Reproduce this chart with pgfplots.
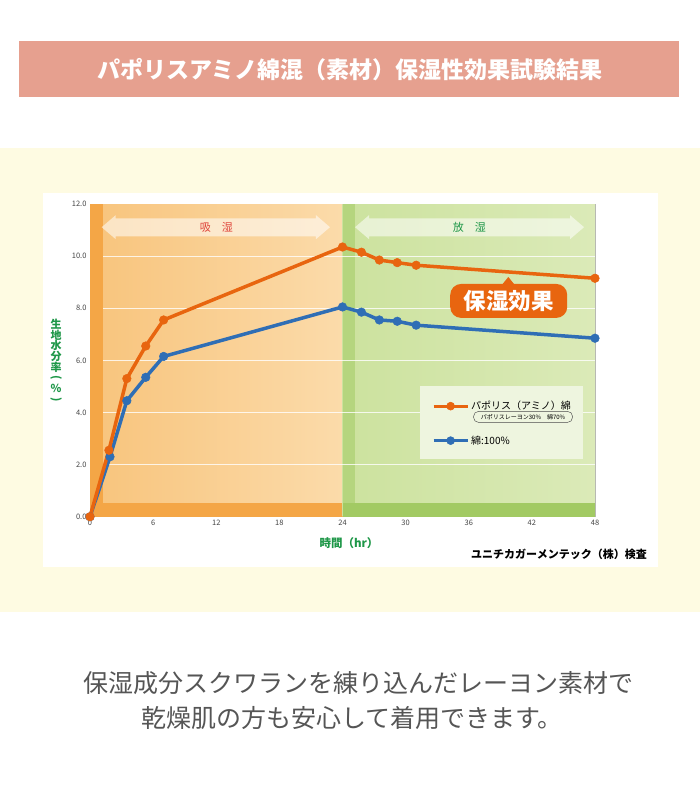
\documentclass[border=0pt]{standalone}
\usepackage{fontspec}
\setmainfont{Noto Sans CJK JP}
\usepackage{pgfplots}
\pgfplotsset{compat=1.18}

\definecolor{titlebg}{HTML}{E6A08F}
\definecolor{cream}{HTML}{FEFBE2}
\definecolor{orline}{HTML}{E8650F}
\definecolor{blueline}{HTML}{2F6EB5}
\definecolor{orL}{HTML}{F8C47C}
\definecolor{orR}{HTML}{FBDBAA}
\definecolor{orD}{HTML}{F4A646}
\definecolor{grL}{HTML}{CCE29E}
\definecolor{grR}{HTML}{DBEAB8}
\definecolor{grS}{HTML}{B5D57E}
\definecolor{grD}{HTML}{A2CA63}
\definecolor{labgreen}{HTML}{1E9748}
\definecolor{redtxt}{HTML}{E0463C}
\definecolor{legbg}{HTML}{EEF5DF}
\definecolor{txtgray}{HTML}{555555}
\definecolor{tickgray}{HTML}{444444}

\begin{document}
\begin{tikzpicture}
\begin{scope}[x=1pt,y=-1pt]
\useasboundingbox (0,0) rectangle (700,794);
\fill[white] (0,0) rectangle (700,794);
% title bar
\fill[titlebg] (19,41) rectangle (679,97);
\node[text=white, font=\fontsize{23}{25}\selectfont\bfseries] at (350,69.5) {パポリスアミノ綿混（素材）保湿性効果試験結果};
% cream band and white panel
\fill[cream] (0,148) rectangle (700,612);
\fill[white] (43,193) rectangle (658,567);
% axis titles
\node[text=labgreen, font=\fontsize{11}{10.6}\selectfont\bfseries, align=center, inner sep=0pt] at (56,361)
  {生\\地\\水\\分\\率\\\rotatebox[origin=c]{-90}{(}\\\%\\\rotatebox[origin=c]{-90}{)}};
\node[text=labgreen, font=\fontsize{11.5}{12}\selectfont\bfseries] at (349,543.5) {時間（hr）};
\node[text=black, font=\fontsize{11}{12}\selectfont\bfseries] at (559,554) {ユニチカガーメンテック（株）検査};
% text below
\node[text=txtgray, font=\fontsize{25}{28}\selectfont] at (358,683) {保湿成分スクワランを練り込んだレーヨン素材で};
\node[text=txtgray, font=\fontsize{25}{28}\selectfont] at (352,718) {乾燥肌の方も安心して着用できます。};
\end{scope}

\begin{axis}[
  at={(90pt,-516.7pt)}, anchor=south west,
  width=505pt, height=312.7pt, scale only axis,
  xmin=0, xmax=48, ymin=0, ymax=12,
  xtick={0,6,...,48}, ytick={0,2,...,12},
  tick pos=left,
  ytick style={draw=none},
  xtick style={draw=black!45, line width=0.4pt},
  major tick length=3pt,
  yticklabel style={/pgf/number format/.cd, fixed, fixed zerofill, precision=1},
  /pgf/number format/assume math mode=true,
  tick label style={font=\fontsize{7.5}{8}\selectfont, text=tickgray},
  axis line style={draw=black!30, line width=0.5pt},
  clip=false,
  legend style={at={(axis cs:32.5,4.52)}, anchor=north west, draw=none, fill=none,
    font=\fontsize{10}{12}\selectfont, row sep=20.5pt, inner sep=0pt,
    cells={anchor=west}},
  legend image code/.code={\draw[#1, mark repeat=2, mark phase=2] plot coordinates {(0pt,0pt) (17pt,0pt) (34pt,0pt)};},
]
% background regions
\shade[left color=orL, right color=orR] (axis cs:0,0) rectangle (axis cs:24,12);
\fill[orD] (axis cs:0,0) rectangle (axis cs:1.25,12);
\fill[orD] (axis cs:0,0) rectangle (axis cs:24,0.52);
\shade[left color=grL, right color=grR] (axis cs:24,0) rectangle (axis cs:48,12);
\fill[grS] (axis cs:24,0) rectangle (axis cs:25.2,12);
\fill[grD] (axis cs:24,0) rectangle (axis cs:48,0.52);
\pgfplotsinvokeforeach{2,4,6,8,10}{\draw[white, opacity=0.8, line width=0.7pt] (axis cs:1.25,#1) -- (axis cs:48,#1);}
% phase arrows
\fill[white, opacity=0.55] (axis cs:1.11,11.11) -- (axis cs:2.44,11.57) -- (axis cs:2.44,11.45)
  -- (axis cs:21.48,11.45) -- (axis cs:21.48,11.57) -- (axis cs:22.81,11.11) -- (axis cs:21.48,10.65)
  -- (axis cs:21.48,10.76) -- (axis cs:2.44,10.76) -- (axis cs:2.44,10.65) -- cycle;
\node[text=redtxt, font=\fontsize{11}{12}\selectfont] at (axis cs:12,11.12) {吸　湿};
\fill[white, opacity=0.55] (axis cs:25.19,11.11) -- (axis cs:26.52,11.57) -- (axis cs:26.52,11.45)
  -- (axis cs:45.63,11.45) -- (axis cs:45.63,11.57) -- (axis cs:46.96,11.11) -- (axis cs:45.63,10.65)
  -- (axis cs:45.63,10.76) -- (axis cs:26.52,10.76) -- (axis cs:26.52,10.65) -- cycle;
\node[text=labgreen, font=\fontsize{11}{12}\selectfont] at (axis cs:36.07,11.12) {放　湿};
% legend panel
\fill[legbg] (axis cs:31.37,2.21) rectangle (axis cs:46.86,5.02);
% data
\addplot[blueline, line width=3.5pt, mark=*, mark size=4.3pt, mark options={line width=0.5pt}, forget plot]
  coordinates {(0,0) (1.9,2.3) (3.5,4.45) (5.3,5.35) (7,6.15) (24,8.05) (25.8,7.85) (27.5,7.55) (29.2,7.5) (31,7.35) (48,6.85)};
\addplot[orline, line width=3.5pt, mark=*, mark size=4.3pt, mark options={line width=0.5pt}, forget plot]
  coordinates {(0,0) (1.8,2.55) (3.5,5.3) (5.3,6.55) (7,7.55) (24,10.35) (25.8,10.15) (27.5,9.85) (29.2,9.75) (31,9.65) (48,9.15)};
\addlegendimage{orline, line width=3pt, mark=*, mark size=4pt, mark options={line width=0.5pt}}
\addlegendentry{パポリス（アミノ）綿}
\addlegendimage{blueline, line width=3pt, mark=*, mark size=4pt, mark options={line width=0.5pt}}
\addlegendentry{綿:100\%}
\node[draw=black!70, rounded corners=5pt, line width=0.45pt, font=\fontsize{6}{7}\selectfont,
  inner xsep=3pt, inner ysep=0pt, minimum width=99pt, minimum height=11pt] at (axis cs:41.16,3.83) {パポリスレーヨン30\%　綿70\%};
% callout
\fill[orline] (axis cs:39.06,8.85) -- (axis cs:39.76,9.2) -- (axis cs:40.46,8.85) -- cycle;
\node[fill=orline, rounded corners=11pt, minimum width=117pt, minimum height=34pt, text=white,
  font=\fontsize{22.5}{24}\selectfont\bfseries, inner sep=0pt] at (axis cs:39.8,8.28) {保湿効果};
\end{axis}
\end{tikzpicture}
\end{document}
